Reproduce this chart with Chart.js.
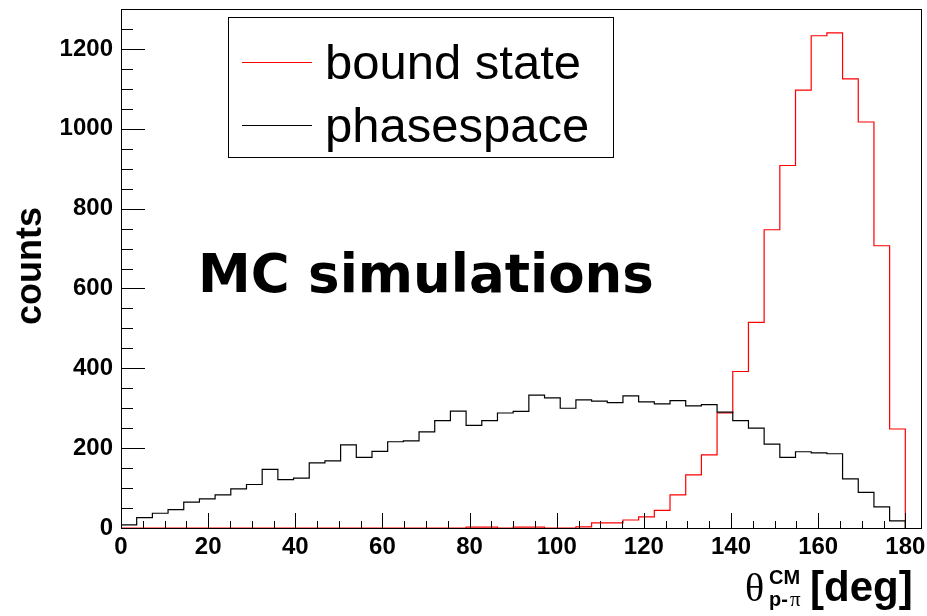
<!DOCTYPE html>
<html>
<head>
<meta charset="utf-8">
<script src="https://cdn.jsdelivr.net/npm/chart.js@4.4.1/dist/chart.umd.min.js"></script>
<style>
  html, body { margin: 0; padding: 0; background: #fff; }
  #wrap { width: 927px; height: 616px; }
</style>
</head>
<body>
<div id="wrap"><canvas id="histChart" width="927" height="616"></canvas></div>
<script>
// binning: 50 bins of 3.6 deg from 0 to 180
const binWidth = 3.6;
const xEnd = 180;
const binEdges = Array.from({ length: 50 }, (_, i) => +(i * binWidth).toFixed(1));

// counts per bin
const phasespace = [
    8, 26, 37, 46, 65, 73, 83, 98, 109, 147,
    121, 125, 163, 168, 208, 177, 192, 216, 218, 241,
    269, 293, 257, 269, 288, 292, 333, 326, 300, 321,
    318, 314, 331, 316, 311, 319, 306, 309, 290, 269,
    250, 210, 177, 191, 188, 186, 123, 89, 53, 18
];
const boundState = [
    0, 0, 0, 0, 0, 0, 0, 0, 0, 0,
    0, 0, 0, 0, 0, 0, 0, 0, 0, 0,
    0, 0, 2, 2, 0, 2, 2, 0, 0, 3,
    13, 13, 20, 28, 44, 83, 133, 183, 288, 392,
    515, 747, 908, 1097, 1233, 1240, 1125, 1017, 707, 248
];

const xTickLabels = [0, 20, 40, 60, 80, 100, 120, 140, 160, 180];
const yTickLabels = [0, 200, 400, 600, 800, 1000, 1200];

const legendItems = [
    { text: "bound state", color: "#ff0000" },
    { text: "phasespace", color: "#000000" }
];

// bin content applies to [edge, nextEdge], so the step comes before each point
function histPoints(values) {
    const pts = [{ x: 0, y: 0 }];
    values.forEach((v, i) => pts.push({ x: binEdges[i] + binWidth, y: v }));
    pts.push({ x: xEnd, y: 0 });
    return pts;
}

const tickFont = { family: "'Liberation Sans', Arial, sans-serif", weight: "bold", size: 24 };

// ROOT style frame, inward ticks, legend box and texts
const rootDecor = {
    id: "rootDecor",
    afterDatasetsDraw(chart) {
        const ctx = chart.ctx;
        const a = chart.chartArea;
        const xs = chart.scales.x;
        const ys = chart.scales.y;
        ctx.save();
        ctx.strokeStyle = "#000";
        ctx.lineWidth = 1;
        ctx.strokeRect(a.left + 0.5, a.top + 0.5, a.right - a.left, a.bottom - a.top);

        ctx.beginPath();
        xs.ticks.forEach(t => {
            const px = Math.round(xs.getPixelForValue(t.value)) + 0.5;
            const len = t.value % 20 === 0 ? 15 : 7;
            ctx.moveTo(px, a.bottom);
            ctx.lineTo(px, a.bottom - len);
        });
        ys.ticks.forEach(t => {
            if (t.value >= ys.max) return;
            const py = Math.round(ys.getPixelForValue(t.value)) + 0.5;
            const len = t.value % 200 === 0 ? 24 : 12;
            ctx.moveTo(a.left, py);
            ctx.lineTo(a.left + len, py);
        });
        ctx.stroke();
        ctx.restore();
    },
    afterDraw(chart) {
        const ctx = chart.ctx;
        ctx.save();

        // legend
        ctx.fillStyle = "#fff";
        ctx.fillRect(228, 17, 385, 140);
        ctx.strokeStyle = "#000";
        ctx.lineWidth = 1;
        ctx.strokeRect(228.5, 17.5, 385, 140);
        ctx.font = "49px 'Liberation Sans', Arial, sans-serif";
        ctx.textBaseline = "alphabetic";
        ctx.textAlign = "left";
        legendItems.forEach((item, i) => {
            const cy = 62 + i * 63;
            ctx.strokeStyle = item.color;
            ctx.beginPath();
            ctx.moveTo(242, cy + 0.5);
            ctx.lineTo(312, cy + 0.5);
            ctx.stroke();
            ctx.fillStyle = "#000";
            ctx.fillText(item.text, 325, cy + 17);
        });

        // big label
        ctx.fillStyle = "#000";
        ctx.font = "bold 53px 'DejaVu Sans', sans-serif";
        ctx.fillText("MC simulations", 198, 292);

        // y title
        ctx.save();
        ctx.translate(41, 266);
        ctx.rotate(-Math.PI / 2);
        ctx.textAlign = "center";
        ctx.font = "bold 36px 'Liberation Sans', Arial, sans-serif";
        ctx.fillText("counts", 0, 0);
        ctx.restore();

        // x title: theta^CM_(p-pi) [deg]
        ctx.textAlign = "left";
        ctx.font = "40px 'Liberation Serif', serif";
        ctx.fillText("\u03b8", 745, 601);
        ctx.font = "bold 20px 'Liberation Sans', Arial, sans-serif";
        ctx.fillText("CM", 769, 584);
        ctx.fillText("p-", 769, 606);
        ctx.font = "21px 'Liberation Serif', serif";
        ctx.fillText("\u03c0", 790, 606);
        ctx.font = "bold 42px 'Liberation Sans', Arial, sans-serif";
        ctx.fillText("[deg]", 810, 601);

        ctx.restore();
    }
};

new Chart(document.getElementById("histChart"), {
    type: "line",
    data: {
        datasets: [{
            label: "phasespace",
            data: histPoints(phasespace),
            borderColor: "#000000",
            borderWidth: 1.2,
            stepped: "after",
            pointRadius: 0,
            fill: false,
            order: 0
        }, {
            label: "bound state",
            data: histPoints(boundState),
            borderColor: "#ff0000",
            borderWidth: 1.2,
            stepped: "after",
            pointRadius: 0,
            fill: false,
            order: 1
        }]
    },
    options: {
        responsive: false,
        animation: false,
        devicePixelRatio: 1,
        layout: { padding: { top: 9, right: 6, left: 0, bottom: 0 } },
        plugins: {
            legend: { display: false },
            tooltip: { enabled: false }
        },
        scales: {
            x: {
                type: "linear",
                min: 0,
                max: 183.6,
                afterBuildTicks: s => {
                    const ticks = [];
                    for (let v = 0; v <= 180; v += 5) ticks.push({ value: v });
                    s.ticks = ticks;
                },
                afterFit: s => { s.height = 88; s.paddingLeft = 0; s.paddingRight = 0; },
                grid: { display: false, drawTicks: false },
                border: { display: false },
                ticks: {
                    autoSkip: false,
                    maxRotation: 0,
                    padding: 5,
                    color: "#000",
                    font: tickFont,
                    callback: v => xTickLabels.includes(v) ? String(v) : ""
                }
            },
            y: {
                min: 0,
                max: 1300,
                afterFit: s => { s.width = 121; s.paddingTop = 0; s.paddingBottom = 0; },
                grid: { display: false, drawTicks: false },
                border: { display: false },
                ticks: {
                    stepSize: 50,
                    autoSkip: false,
                    padding: 8,
                    color: "#000",
                    font: tickFont,
                    callback: v => yTickLabels.includes(v) ? String(v) : ""
                }
            }
        }
    },
    plugins: [rootDecor]
});
</script>
</body>
</html>
